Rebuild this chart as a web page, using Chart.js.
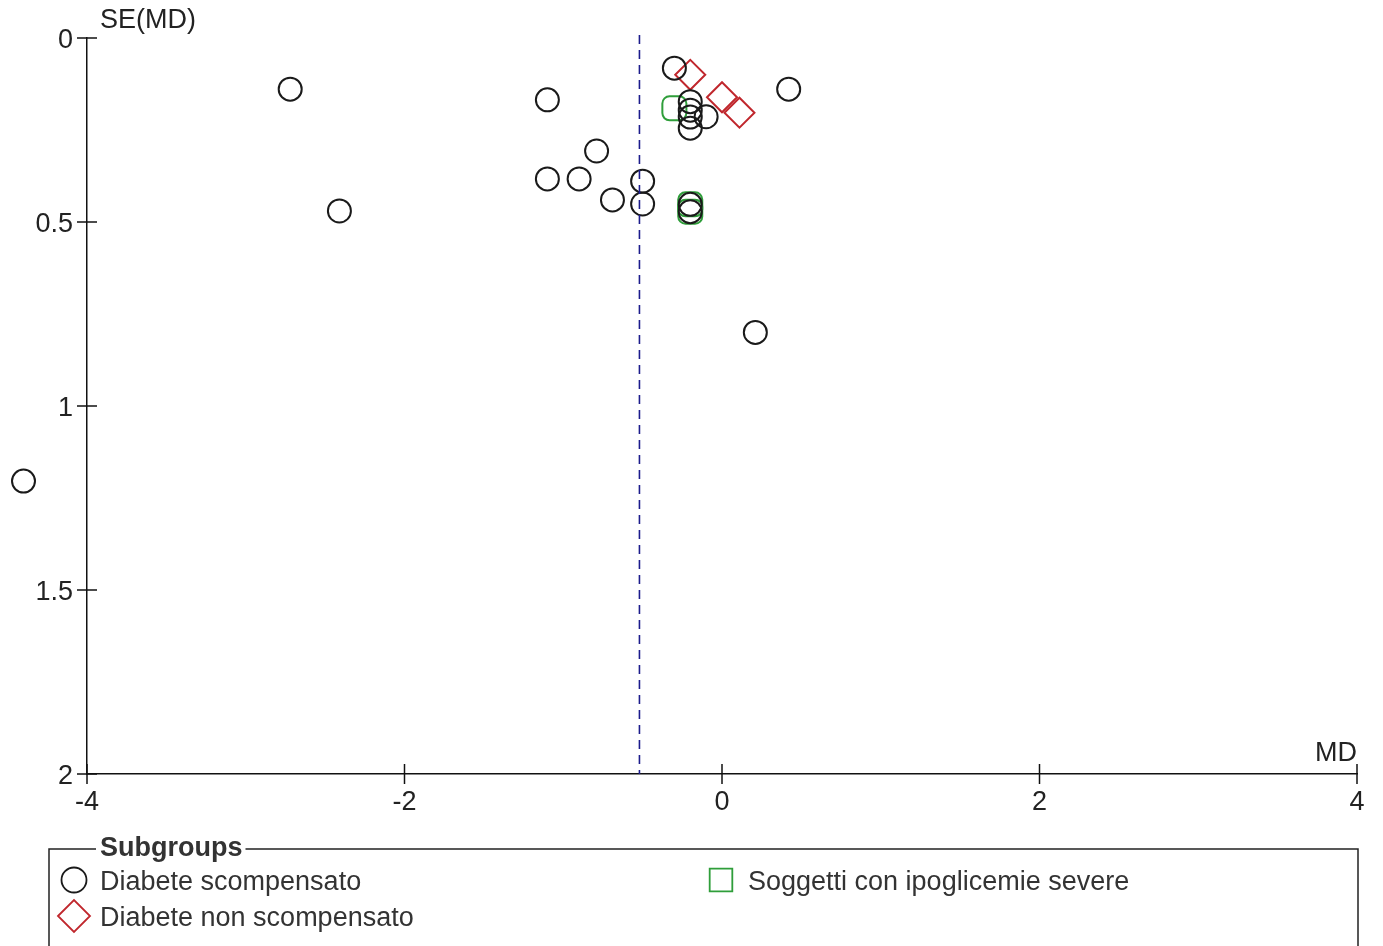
<!DOCTYPE html>
<html>
<head>
<meta charset="utf-8">
<script src="https://cdn.jsdelivr.net/npm/chart.js@4.4.1/dist/chart.umd.min.js"></script>
<style>
  html, body { margin: 0; padding: 0; background: #fff; }
  #wrap { width: 1383px; height: 946px; }
</style>
</head>
<body>
<div id="wrap"><canvas id="myChart" width="1383" height="946"></canvas></div>
<script>
// funnel plot values (MD vs SE(MD))
const scompensatoMD = [-2.72, -2.41, -1.10, -1.10, -0.90, -0.79, -0.69, -0.50, -0.50, -0.30, -0.20, -0.20, -0.20, -0.20, -0.10, 0.42, 0.21, -0.20, -0.20, -4.40];
const scompensatoSE = [0.139, 0.470, 0.168, 0.383, 0.383, 0.307, 0.440, 0.389, 0.451, 0.082, 0.173, 0.196, 0.215, 0.245, 0.214, 0.139, 0.800, 0.452, 0.472, 1.204];
const nonScompensatoMD = [-0.20, 0.00, 0.11];
const nonScompensatoSE = [0.100, 0.161, 0.203];
const ipoglicemieMD = [-0.30, -0.20, -0.20];
const ipoglicemieSE = [0.191, 0.452, 0.472];
const pooledMD = -0.52;
const xTicks = [-4, -2, 0, 2, 4];
const yTicks = [0, 0.5, 1, 1.5, 2];
const labels = ["Diabete scompensato", "Diabete non scompensato", "Soggetti con ipoglicemie severe"];

const FONT = "'Liberation Sans', Arial, sans-serif";
const FSIZE = 27;
const toPoints = (xs, ys) => xs.map((x, i) => ({ x: x, y: ys[i] }));

// ticks that cross the axis lines, dashed pooled line, titles, points off the area
const extras = {
    id: "extras",
    afterDatasetsDraw(chart) {
        const ctx = chart.ctx;
        const xs = chart.scales.x;
        const ys = chart.scales.y;
        const a = chart.chartArea;
        ctx.save();
        ctx.strokeStyle = "#111";
        ctx.lineWidth = 1.5;
        xTicks.forEach((v) => {
            const px = xs.getPixelForValue(v);
            ctx.beginPath();
            ctx.moveTo(px, a.bottom - 10);
            ctx.lineTo(px, a.bottom + 10);
            ctx.stroke();
        });
        yTicks.forEach((v) => {
            const py = ys.getPixelForValue(v);
            ctx.beginPath();
            ctx.moveTo(a.left - 10, py);
            ctx.lineTo(a.left + 10, py);
            ctx.stroke();
        });
        // pooled estimate
        const lx = xs.getPixelForValue(pooledMD);
        ctx.strokeStyle = "#1c1c8c";
        ctx.lineWidth = 1.6;
        ctx.setLineDash([9, 6]);
        ctx.beginPath();
        ctx.moveTo(lx, a.top - 3);
        ctx.lineTo(lx, a.bottom);
        ctx.stroke();
        ctx.setLineDash([]);
        // axis titles
        ctx.fillStyle = "#222";
        ctx.font = FSIZE + "px " + FONT;
        ctx.textBaseline = "middle";
        ctx.textAlign = "left";
        ctx.fillText("SE(MD)", a.left + 13, 21);
        ctx.textAlign = "right";
        ctx.fillText("MD", a.right, a.bottom - 20);
        ctx.restore();
        // points that fall outside the plotting area
        chart.data.datasets.forEach((ds, i) => {
            chart.getDatasetMeta(i).data.forEach((el) => {
                if (el.x < a.left || el.x > a.right || el.y < a.top || el.y > a.bottom) el.draw(ctx);
            });
        });
    },
};

// boxed legend with the "Subgroups" title on its border
const subgroupLegend = {
    id: "subgroupLegend",
    afterDraw(chart) {
        const ctx = chart.ctx;
        const ds = chart.data.datasets;
        const top = 849;
        ctx.save();
        ctx.font = "bold " + FSIZE + "px " + FONT;
        const titleW = ctx.measureText("Subgroups").width;
        ctx.strokeStyle = "#222";
        ctx.lineWidth = 1.5;
        ctx.beginPath();
        ctx.moveTo(96, top);
        ctx.lineTo(49, top);
        ctx.lineTo(49, 960);
        ctx.moveTo(1358, 960);
        ctx.lineTo(1358, top);
        ctx.lineTo(100 + titleW + 3, top);
        ctx.stroke();
        ctx.fillStyle = "#333";
        ctx.textBaseline = "middle";
        ctx.fillText("Subgroups", 100, top);

        const slots = [
            { mx: 74, tx: 100, y: 883, r: 12.5 },
            { mx: 74, tx: 100, y: 919, r: 16 },
            { mx: 721, tx: 748, y: 883, r: 16 },
        ];
        ctx.font = FSIZE + "px " + FONT;
        ds.forEach((d, i) => {
            const s = slots[i];
            ctx.strokeStyle = d.borderColor;
            ctx.fillStyle = "rgba(0,0,0,0)";
            ctx.lineWidth = 1.8;
            Chart.helpers.drawPoint(ctx, {
                pointStyle: d.legendStyle,
                radius: s.r,
                borderWidth: 1.8,
                rotation: 0,
            }, s.mx, s.y - 3);
            ctx.fillStyle = "#333";
            ctx.fillText(d.label, s.tx, s.y);
        });
        ctx.restore();
    },
};

new Chart(document.getElementById("myChart"), {
    type: "scatter",
    data: {
        datasets: [
            {
                label: labels[0],
                data: toPoints(scompensatoMD, scompensatoSE),
                pointStyle: "circle",
                legendStyle: "circle",
                pointRadius: 11.5,
                borderColor: "#1a1a1a",
                backgroundColor: "rgba(0,0,0,0)",
                borderWidth: 2,
                clip: false,
            },
            {
                label: labels[1],
                data: toPoints(nonScompensatoMD, nonScompensatoSE),
                pointStyle: "rectRot",
                legendStyle: "rectRot",
                pointRadius: 15,
                borderColor: "#c0272d",
                backgroundColor: "rgba(0,0,0,0)",
                borderWidth: 2,
                clip: false,
            },
            {
                label: labels[2],
                data: toPoints(ipoglicemieMD, ipoglicemieSE),
                pointStyle: "rectRounded",
                legendStyle: "rect",
                pointRadius: 14,
                borderColor: "#2f9e3a",
                backgroundColor: "rgba(0,0,0,0)",
                borderWidth: 2,
                clip: false,
            },
        ],
    },
    options: {
        responsive: false,
        animation: false,
        layout: { padding: { top: 38, right: 26, bottom: 132, left: 0 } },
        plugins: { legend: { display: false }, tooltip: { enabled: false } },
        scales: {
            x: {
                type: "linear",
                min: -4,
                max: 4,
                afterBuildTicks: (s) => { s.ticks = xTicks.map((v) => ({ value: v })); },
                afterFit: (s) => { s.height = 40; },
                grid: { display: false, drawTicks: false },
                border: { display: true, color: "#111", width: 1.5 },
                ticks: { padding: 12, color: "#222", font: { family: FONT, size: FSIZE }, callback: (v) => String(v) },
            },
            y: {
                type: "linear",
                reverse: true,
                min: 0,
                max: 2,
                afterBuildTicks: (s) => { s.ticks = yTicks.map((v) => ({ value: v })); },
                afterFit: (s) => { s.width = 87; },
                grid: { display: false, drawTicks: false },
                border: { display: true, color: "#111", width: 1.5 },
                ticks: { padding: 14, labelOffset: 3, color: "#222", font: { family: FONT, size: FSIZE }, callback: (v) => String(v) },
            },
        },
    },
    plugins: [extras, subgroupLegend],
});
</script>
</body>
</html>
